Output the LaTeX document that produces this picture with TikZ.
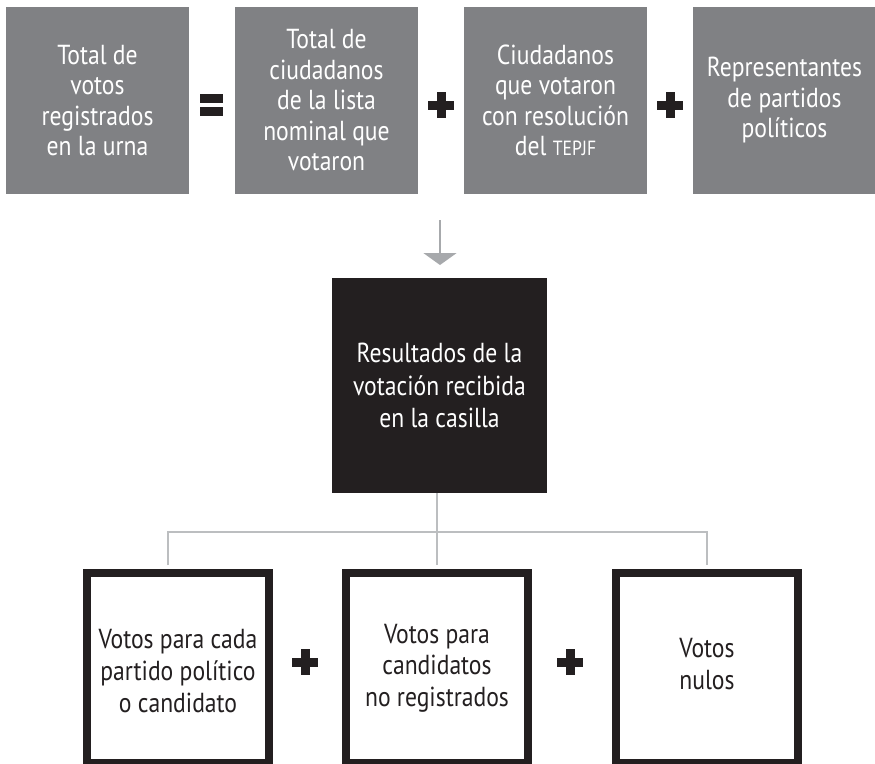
\documentclass[tikz,border=0pt]{standalone}
\usepackage{fontspec}
\setmainfont{PT Sans}[FakeStretch=0.86]
\usetikzlibrary{arrows.meta}
\definecolor{topgray}{HTML}{808184}
\definecolor{darkbox}{HTML}{231F20}
\definecolor{arrowgray}{HTML}{A7A9AC}
\definecolor{linegray}{HTML}{BCBEC0}
\begin{document}
\begin{tikzpicture}[x=1pt,y=-1pt,
  topbox/.style={fill=topgray, draw=none, minimum width=183pt, minimum height=187pt, inner sep=0pt, text=white, align=center, font=\fontsize{27.5}{30.5}\selectfont},
  resbox/.style={fill=darkbox, draw=none, minimum width=215pt, minimum height=215pt, inner sep=0pt, text=white, align=center, font=\fontsize{27.5}{32.5}\selectfont},
  framebox/.style={draw=darkbox, line width=8pt, fill=white, minimum width=182pt, minimum height=190pt, inner sep=0pt},
  frametext/.style={inner sep=0pt, text=darkbox, align=center, font=\fontsize{27.5}{31.7}\selectfont},
  conn/.style={draw=linegray, line width=1.5pt},
  plussign/.pic={\fill[darkbox] (-13,-4.5) rectangle (13,4.5); \fill[darkbox] (-4.5,-13) rectangle (4.5,13);},
  equalsign/.pic={\fill[darkbox] (-11.7,-11) rectangle (11.7,-2.3); \fill[darkbox] (-11.7,2.3) rectangle (11.7,11);}
]
\useasboundingbox (0,0) rectangle (875,763);
\fill[white] (0,0) rectangle (875,763);

% top row
\node[topbox] (t1) at (97.5,100.5) {Total de\\votos\\registrados\\en la urna};
\node[topbox] (t2) at (326.5,100.5) {Total de\\ciudadanos\\de la lista\\nominal que\\votaron};
\node[topbox] (t3) at (555.5,100.5) {Ciudadanos\\que votaron\\con resolución\\del {\fontsize{20.5}{22}\selectfont TEPJF}};
\node[topbox] (t4) at (784.5,100.5) {Representantes\\de partidos\\políticos};
\pic at (211.7,105) {equalsign};
\pic at (441.2,105.3) {plussign};
\pic at (670,105.3) {plussign};

% arrow
\coordinate (astart) at (440,220);
\coordinate (aend) at (440,265);
\draw[arrowgray, line width=2pt, -{Triangle[width=33pt,length=12pt]}] (astart) -- (aend);

% result box
\node[resbox] (res) at (439.5,385.5) {Resultados de la\\votación recibida\\en la casilla};

% bottom boxes
\node[framebox] (b1) at (178,668) {};
\node[framebox] (b2) at (437,668) {};
\node[framebox] (b3) at (707,668) {};
\node[frametext] (b1t) at (178,671) {Votos para cada\\partido político\\o candidato};
\node[frametext] (b2t) at (437,668) {Votos para\\candidatos\\no registrados};
\node[frametext] (b3t) at (707,664) {Votos\\nulos};
\pic at (305,662.3) {plussign};
\pic at (570,662.3) {plussign};

% connectors
\coordinate (jm) at (437,532);
\coordinate (jl) at (168,532);
\coordinate (jr) at (707,532);
\coordinate (el) at (168,565);
\coordinate (em) at (437,565);
\coordinate (er) at (707,565);
\draw[conn] (res.south -| jm) -- (jm) -- (em);
\draw[conn] (el) -- (jl) -- (jr) -- (er);
\end{tikzpicture}
\end{document}
